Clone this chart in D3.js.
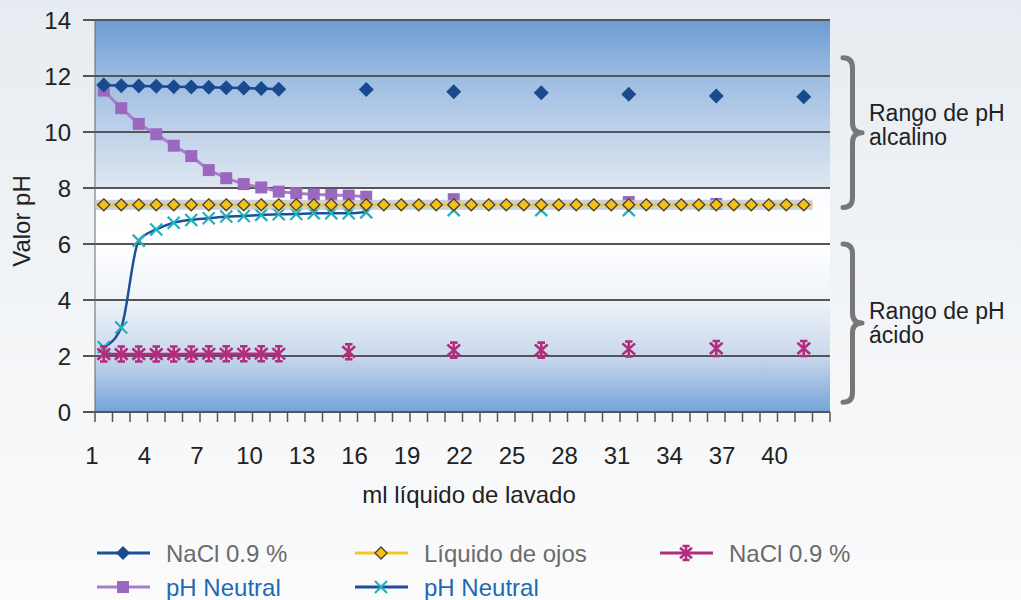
<!DOCTYPE html>
<html>
<head>
<meta charset="utf-8">
<script src="https://cdn.jsdelivr.net/npm/d3@7/dist/d3.min.js"></script>
<style>
  body { margin: 0; background: #fff; }
  text { font-family: "Liberation Sans", Arial, Helvetica, sans-serif; }
</style>
</head>
<body>
<svg id="chart"></svg>
<script>
var width = 1021;
var height = 600;

// ml of wash liquid (one category per ml)
var categories = [1, 2, 3, 4, 5, 6, 7, 8, 9, 10, 11, 12, 13, 14, 15, 16, 17, 18, 19, 20, 21,
  22, 23, 24, 25, 26, 27, 28, 29, 30, 31, 32, 33, 34, 35, 36, 37, 38, 39, 40, 41, 42];
var tickLabels = [1, 4, 7, 10, 13, 16, 19, 22, 25, 28, 31, 34, 37, 40];
var yTicks = [0, 2, 4, 6, 8, 10, 12, 14];

// pH values, null = not measured
var naclAlk = [11.68, 11.65, 11.64, 11.63, 11.62, 11.61, 11.6, 11.58, 11.57, 11.55, 11.53,
  null, null, null, null, 11.52, null, null, null, null, 11.44, null, null, null, null, 11.4,
  null, null, null, null, 11.35, null, null, null, null, 11.29, null, null, null, null, 11.26, null];
var neutralAlk = [11.48, 10.85, 10.29, 9.92, 9.51, 9.14, 8.64, 8.35, 8.14, 8.02, 7.87, 7.81,
  7.77, 7.75, 7.73, 7.69, null, null, null, null, 7.6, null, null, null, null, null, null, null,
  null, null, 7.5, null, null, null, null, 7.43, null, null, null, null, null, null];
var eyeFluid = [7.4, 7.4, 7.4, 7.4, 7.4, 7.4, 7.4, 7.4, 7.4, 7.4, 7.4, 7.4, 7.4, 7.4, 7.4, 7.4,
  7.4, 7.4, 7.4, 7.4, 7.4, 7.4, 7.4, 7.4, 7.4, 7.4, 7.4, 7.4, 7.4, 7.4, 7.4, 7.4, 7.4, 7.4, 7.4,
  7.4, 7.4, 7.4, 7.4, 7.4, 7.4, null];
var naclAcid = [2.07, 2.07, 2.07, 2.07, 2.07, 2.07, 2.08, 2.08, 2.08, 2.08, 2.08, null, null,
  null, 2.15, null, null, null, null, null, 2.21, null, null, null, null, 2.21, null, null, null,
  null, 2.25, null, null, null, null, 2.27, null, null, null, null, 2.27, null];
var neutralAcid = [2.31, 3.02, 6.12, 6.52, 6.76, 6.86, 6.92, 6.98, 7.0, 7.04, 7.06, 7.07, 7.1,
  7.1, 7.1, 7.13, null, null, null, null, 7.21, null, null, null, null, 7.21, null, null, null,
  null, 7.21, null, null, null, null, null, null, null, null, null, null, null];

var alkalineRange = [7.3, 12.65];
var acidRange = [0.35, 6.0];

var svg = d3.select("#chart").attr("width", width).attr("height", height);
var defs = svg.append("defs");

var xb = d3.scaleBand().domain(categories).range([95, 830]);
var y = d3.scaleLinear().domain([0, 14]).range([412, 20]);
function xc(i) { return xb(categories[i]) + xb.bandwidth() / 2; }

// page background
var bg = defs.append("linearGradient").attr("id", "bg").attr("x1", 0).attr("y1", 0).attr("x2", 0).attr("y2", 1);
bg.append("stop").attr("offset", 0).attr("stop-color", "#e6ecf1");
bg.append("stop").attr("offset", 0.6).attr("stop-color", "#f4f6f8");
bg.append("stop").attr("offset", 1).attr("stop-color", "#fbfbfc");
svg.append("rect").attr("width", width).attr("height", height).attr("fill", "url(#bg)");

// plot gradient
var pg = defs.append("linearGradient").attr("id", "plotbg")
  .attr("gradientUnits", "userSpaceOnUse")
  .attr("x1", 0).attr("x2", 0).attr("y1", y(14)).attr("y2", y(0));
[[14, "#6b9cd2"], [12, "#9bbce2"], [10, "#bfd2ea"], [8.05, "#dfe6f1"], [7.95, "#fbfcfe"],
 [6, "#ffffff"], [4, "#eff3f8"], [2, "#c9d8ed"], [0, "#74a3d8"]].forEach(function (s) {
  pg.append("stop").attr("offset", (14 - s[0]) / 14).attr("stop-color", s[1]);
});

var plot = svg.append("g");
plot.append("rect")
  .attr("x", xb.range()[0]).attr("y", y(14))
  .attr("width", xb.range()[1] - xb.range()[0]).attr("height", y(0) - y(14))
  .attr("fill", "url(#plotbg)");

// gridlines + y ticks
plot.selectAll(".grid").data(yTicks).enter().append("line")
  .attr("x1", 83).attr("x2", xb.range()[1])
  .attr("y1", function (d) { return y(d); }).attr("y2", function (d) { return y(d); })
  .attr("stroke", "#555").attr("stroke-width", 2);
plot.append("line").attr("x1", xb.range()[0]).attr("x2", xb.range()[0])
  .attr("y1", y(0)).attr("y2", y(14)).attr("stroke", "#666").attr("stroke-width", 1);

svg.selectAll(".ylab").data(yTicks).enter().append("text")
  .attr("x", 71).attr("y", function (d) { return y(d); }).attr("dy", "0.36em")
  .attr("text-anchor", "end").attr("font-size", 24).attr("fill", "#222")
  .text(function (d) { return d; });

// x ticks at band edges
var edges = categories.map(function (c) { return xb(c); }).concat([xb.range()[1]]);
plot.selectAll(".xt").data(edges).enter().append("line")
  .attr("x1", function (d) { return d; }).attr("x2", function (d) { return d; })
  .attr("y1", y(0)).attr("y2", y(0) + 10)
  .attr("stroke", "#555").attr("stroke-width", 1.5);

svg.selectAll(".xlab").data(tickLabels).enter().append("text")
  .attr("x", function (d) { return xb(d) - 3; }).attr("y", 464)
  .attr("text-anchor", "middle").attr("font-size", 24).attr("fill", "#222")
  .text(function (d) { return d; });

svg.append("text").attr("x", 469).attr("y", 503).attr("text-anchor", "middle")
  .attr("font-size", 24).attr("fill", "#222").text("ml líquido de lavado");
svg.append("text").attr("transform", "translate(30,221)rotate(-90)")
  .attr("text-anchor", "middle").attr("font-size", 24).attr("fill", "#222").text("Valor pH");

// markers
function marker(g, type, color, r) {
  if (type === "diamond") {
    g.append("path").attr("d", "M0," + -r + "L" + r + ",0L0," + r + "L" + -r + ",0Z").attr("fill", color);
  } else if (type === "ydiamond") {
    g.append("path").attr("d", "M0," + -r + "L" + r + ",0L0," + r + "L" + -r + ",0Z")
      .attr("fill", "#f4c115").attr("stroke", "#4b3f2a").attr("stroke-width", 1.3);
  } else if (type === "square") {
    g.append("rect").attr("x", -r).attr("y", -r).attr("width", 2 * r).attr("height", 2 * r).attr("fill", color);
  } else if (type === "x") {
    g.append("path").attr("d", "M" + -r + "," + -r + "L" + r + "," + r + "M" + -r + "," + r + "L" + r + "," + -r)
      .attr("stroke", color).attr("stroke-width", 2.2).attr("fill", "none");
  } else if (type === "star") {
    g.append("path").attr("d", "M0," + -r + "V" + r +
      "M" + -r * 0.85 + "," + -r * 0.75 + "L" + r * 0.85 + "," + r * 0.75 +
      "M" + -r * 0.85 + "," + r * 0.75 + "L" + r * 0.85 + "," + -r * 0.75 +
      "M" + -r * 0.5 + "," + -r + "H" + r * 0.5 + "M" + -r * 0.5 + "," + r + "H" + r * 0.5)
      .attr("stroke", color).attr("stroke-width", 2.6).attr("fill", "none");
  }
}

function drawSeries(values, lastLine, lineColor, lineWidth, type, color, r, curve) {
  var pts = values.map(function (v, i) { return { i: i, v: v }; });
  var line = d3.line()
    .defined(function (d) { return d.v !== null && d.i <= lastLine; })
    .x(function (d) { return xc(d.i); })
    .y(function (d) { return y(d.v); })
    .curve(curve || d3.curveLinear);
  plot.append("path").datum(pts).attr("d", line).attr("fill", "none")
    .attr("stroke", lineColor).attr("stroke-width", lineWidth);
  pts.filter(function (d) { return d.v !== null; }).forEach(function (d) {
    var g = plot.append("g").attr("transform", "translate(" + xc(d.i) + "," + y(d.v) + ")");
    marker(g, type, color, r);
  });
}

drawSeries(neutralAlk, 15, "#a87dc9", 3, "square", "#9b68bf", 6);
drawSeries(neutralAcid, 15, "#1d4f9b", 2.5, "x", "#1fb2ba", 6, d3.curveMonotoneX);
drawSeries(naclAcid, 10, "#b22d7c", 2.5, "star", "#b22d7c", 7.5);
drawSeries(naclAlk, 10, "#1a4a8e", 2.5, "diamond", "#1a4a8e", 7.5);

// eye fluid: gray band + yellow line + diamonds
var eyeLast = 40;
plot.append("rect").attr("x", xb(categories[0])).attr("y", y(7.4) - 5)
  .attr("width", xb(categories[eyeLast]) + xb.step() - xb(categories[0])).attr("height", 10)
  .attr("fill", "#bfc3ca").attr("opacity", 0.8);
plot.append("line").attr("x1", xb(categories[0])).attr("x2", xb(categories[eyeLast]) + xb.step())
  .attr("y1", y(7.4)).attr("y2", y(7.4)).attr("stroke", "#f6c922").attr("stroke-width", 3);
eyeFluid.forEach(function (v, i) {
  if (v === null) return;
  var g = plot.append("g").attr("transform", "translate(" + xc(i) + "," + y(v) + ")");
  marker(g, "ydiamond", null, 6);
});

// braces
function brace(x, v0, v1, w) {
  var y0 = y(v1), y1 = y(v0), m = (y0 + y1) / 2, r = 10, xm = x + w / 2;
  return "M" + x + "," + y0 + "Q" + xm + "," + y0 + " " + xm + "," + (y0 + r) +
    "L" + xm + "," + (m - r) + "Q" + xm + "," + m + " " + (x + w) + "," + m +
    "Q" + xm + "," + m + " " + xm + "," + (m + r) +
    "L" + xm + "," + (y1 - r) + "Q" + xm + "," + y1 + " " + x + "," + y1;
}
[alkalineRange, acidRange].forEach(function (rg) {
  svg.append("path").attr("d", brace(843, rg[0], rg[1], 19))
    .attr("fill", "none").attr("stroke", "#777").attr("stroke-width", 5)
    .attr("stroke-linecap", "round").attr("stroke-linejoin", "round");
});
var notes = [["Rango de pH", "alcalino", 121], ["Rango de pH", "ácido", 319]];
notes.forEach(function (n) {
  var t = svg.append("text").attr("x", 869).attr("y", n[2]).attr("font-size", 23).attr("fill", "#222");
  t.append("tspan").attr("x", 869).text(n[0]);
  t.append("tspan").attr("x", 869).attr("dy", 24).text(n[1]);
});

// legend
var legend = [
  { name: "NaCl 0.9 %", x: 97, y: 553, line: "#1d4f9b", type: "diamond", color: "#1a4a8e", r: 7, text: "#6b6b6b" },
  { name: "Líquido de ojos", x: 355, y: 553, line: "#f6c922", type: "ydiamond", color: null, r: 6, text: "#6b6b6b" },
  { name: "NaCl 0.9 %", x: 660, y: 553, line: "#b22d7c", type: "star", color: "#b22d7c", r: 7, text: "#6b6b6b" },
  { name: "pH Neutral", x: 97, y: 587, line: "#a87dc9", type: "square", color: "#9b68bf", r: 6, text: "#1d6ab5" },
  { name: "pH Neutral", x: 355, y: 587, line: "#1d4f9b", type: "x", color: "#1fb2ba", r: 6, text: "#1d6ab5" }
];
legend.forEach(function (d) {
  var g = svg.append("g").attr("transform", "translate(" + d.x + "," + d.y + ")");
  g.append("line").attr("x1", 0).attr("x2", 53).attr("stroke", d.line).attr("stroke-width", 3);
  var m = g.append("g").attr("transform", "translate(26,0)");
  marker(m, d.type, d.color, d.r);
  g.append("text").attr("x", 69).attr("dy", "0.36em").attr("font-size", 24).attr("fill", d.text).text(d.name);
});
</script>
</body>
</html>
